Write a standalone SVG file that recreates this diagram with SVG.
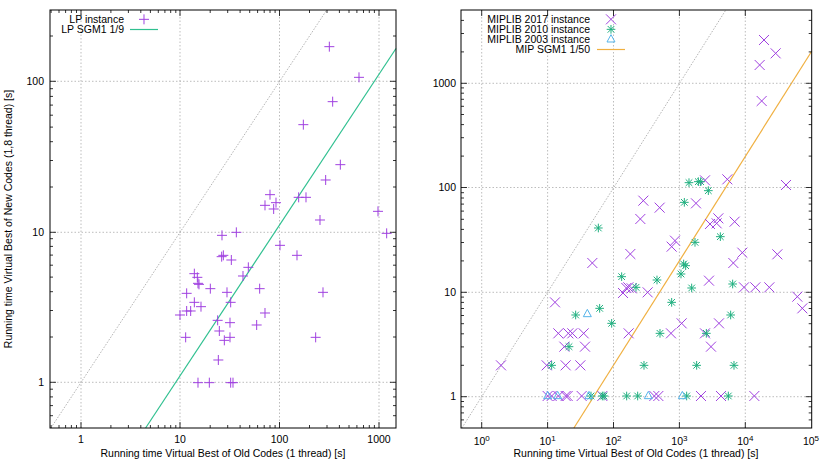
<svg xmlns="http://www.w3.org/2000/svg" xmlns:xlink="http://www.w3.org/1999/xlink" width="830" height="461" viewBox="0 0 830 461">
<style>
text{font-family:"Liberation Sans",Arial,sans-serif;font-size:10.5px;fill:#000}
.grid{stroke:#a0a0a0;stroke-width:0.7;stroke-dasharray:1.5,2;fill:none}
.frame{stroke:#000;stroke-width:1;fill:none}
.tick{stroke:#000;stroke-width:0.8;fill:none}
.diag{stroke:#a0a0a0;stroke-width:0.8;stroke-dasharray:1.5,1.5;fill:none}
.lp{stroke:#30c090;stroke-width:1.2;fill:none}
.mip{stroke:#f0b040;stroke-width:1.2;fill:none}
.p{stroke:#a040e0;stroke-width:3;fill:none}
.g{stroke:#20b080;stroke-width:3;fill:none}
.b{stroke:#56b4e9;stroke-width:3;fill:none}
</style>
<defs>
<path id="plus" d="M-15 0H15M0-15V15"/>
<path id="cross" d="M-15-15L15 15M-15 15L15-15"/>
<path id="star" d="M-13 0H13M0-13V13M-10-10L10 10M-10 10L10-10"/>
<path id="tri" d="M0-14L12 8H-12Z"/>
</defs>
<rect width="830" height="461" fill="#fff"/>

<g id="left-plot">
<path class="grid" d="M81 10V428M180 10V428M279.5 10V428M379 10V428M50 81.3H396M50 232.3H396M50 382.3H396"/>
<g id="connectors">
<path class="diag" d="M50.9 428L326.7 10"/>
<path class="lp" d="M145.6 428L396 48.5"/>
<path class="diag" d="M461.9 428L725.8 10"/>
<path class="mip" d="M573.9 428L811.7 51.2"/>
</g>
<rect class="frame" x="50" y="10" width="346" height="418"/>
<path class="tick" d="M81 428v-6M180 428v-6M279.5 428v-6M379 428v-6M81 10v6M180 10v6M279.5 10v6M379 10v6
M50 81.3h6M50 232.3h6M50 382.3h6M396 81.3h-6M396 232.3h-6M396 382.3h-6"/>
<g id="lminor" class="tick">
<path d="M51.1 428v-3M59 428v-3M65.6 428v-3M71.4 428v-3M76.5 428v-3M110.9 428v-3M128.4 428v-3M140.8 428v-3M150.4 428v-3M158.3 428v-3M164.9 428v-3M170.7 428v-3M175.8 428v-3M210.2 428v-3M227.7 428v-3M240.1 428v-3M249.7 428v-3M257.6 428v-3M264.2 428v-3M270 428v-3M275.1 428v-3M309.5 428v-3M327 428v-3M339.4 428v-3M349 428v-3M356.9 428v-3M363.5 428v-3M369.3 428v-3M374.4 428v-3"/>
<path d="M51.1 10v3M59 10v3M65.6 10v3M71.4 10v3M76.5 10v3M110.9 10v3M128.4 10v3M140.8 10v3M150.4 10v3M158.3 10v3M164.9 10v3M170.7 10v3M175.8 10v3M210.2 10v3M227.7 10v3M240.1 10v3M249.7 10v3M257.6 10v3M264.2 10v3M270 10v3M275.1 10v3M309.5 10v3M327 10v3M339.4 10v3M349 10v3M356.9 10v3M363.5 10v3M369.3 10v3M374.4 10v3"/>
<path d="M50 415.7h3M50 405.6h3M50 396.9h3M50 389.2h3M50 337h3M50 310.5h3M50 291.7h3M50 277.1h3M50 265.2h3M50 255.1h3M50 246.4h3M50 238.7h3M50 187h3M50 160.5h3M50 141.7h3M50 127.1h3M50 115.2h3M50 105.1h3M50 96.4h3M50 88.7h3M50 36h3"/>
<path d="M396 415.7h-3M396 405.6h-3M396 396.9h-3M396 389.2h-3M396 337h-3M396 310.5h-3M396 291.7h-3M396 277.1h-3M396 265.2h-3M396 255.1h-3M396 246.4h-3M396 238.7h-3M396 187h-3M396 160.5h-3M396 141.7h-3M396 127.1h-3M396 115.2h-3M396 105.1h-3M396 96.4h-3M396 88.7h-3M396 36h-3"/>
</g>
<g text-anchor="middle">
<text x="81" y="443">1</text><text x="180" y="443">10</text><text x="279.5" y="443">100</text><text x="379" y="443">1000</text>
<text x="223" y="457">Running time Virtual Best of Old Codes (1 thread) [s]</text>
<text transform="translate(12,219) rotate(-90)">Running time Virtual Best of New Codes (1,8 thread) [s]</text>
</g>
<g text-anchor="end">
<text x="44" y="85">100</text><text x="44" y="236">10</text><text x="44" y="386">1</text>
<text x="124" y="23">LP instance</text><text x="124" y="33">LP SGM1 1/9</text>
</g>
<path class="lp" d="M130 29.5H158"/>
<g transform="scale(0.33333)" class="p">
<use xlink:href="#plus" x="432" y="58"/>
<use xlink:href="#plus" x="988" y="140"/><use xlink:href="#plus" x="1077" y="232"/><use xlink:href="#plus" x="998" y="305"/><use xlink:href="#plus" x="910" y="374"/><use xlink:href="#plus" x="1021" y="494"/><use xlink:href="#plus" x="977" y="540"/><use xlink:href="#plus" x="810" y="584"/><use xlink:href="#plus" x="828" y="608"/><use xlink:href="#plus" x="795" y="616"/><use xlink:href="#plus" x="821" y="627"/><use xlink:href="#plus" x="896" y="592"/><use xlink:href="#plus" x="918" y="592"/><use xlink:href="#plus" x="960" y="660"/><use xlink:href="#plus" x="1134" y="634"/><use xlink:href="#plus" x="1160" y="700"/><use xlink:href="#plus" x="666" y="706"/><use xlink:href="#plus" x="709" y="697"/><use xlink:href="#plus" x="840" y="736"/><use xlink:href="#plus" x="665" y="770"/><use xlink:href="#plus" x="670" y="766"/><use xlink:href="#plus" x="694" y="780"/><use xlink:href="#plus" x="891" y="766"/><use xlink:href="#plus" x="745" y="802"/><use xlink:href="#plus" x="729" y="828"/><use xlink:href="#plus" x="583" y="821"/><use xlink:href="#plus" x="592" y="832"/><use xlink:href="#plus" x="594" y="850"/><use xlink:href="#plus" x="597" y="853"/><use xlink:href="#plus" x="631" y="866"/><use xlink:href="#plus" x="560" y="880"/><use xlink:href="#plus" x="681" y="877"/><use xlink:href="#plus" x="779" y="866"/><use xlink:href="#plus" x="969" y="877"/><use xlink:href="#plus" x="583" y="907"/><use xlink:href="#plus" x="603" y="920"/><use xlink:href="#plus" x="692" y="907"/><use xlink:href="#plus" x="560" y="933"/><use xlink:href="#plus" x="572" y="933"/><use xlink:href="#plus" x="540" y="945"/><use xlink:href="#plus" x="795" y="939"/><use xlink:href="#plus" x="653" y="961"/><use xlink:href="#plus" x="690" y="968"/><use xlink:href="#plus" x="770" y="975"/><use xlink:href="#plus" x="658" y="993"/><use xlink:href="#plus" x="557" y="1012"/><use xlink:href="#plus" x="690" y="1012"/><use xlink:href="#plus" x="673" y="1021"/><use xlink:href="#plus" x="947" y="1012"/><use xlink:href="#plus" x="655" y="1080"/><use xlink:href="#plus" x="594" y="1148"/><use xlink:href="#plus" x="628" y="1148"/><use xlink:href="#plus" x="692" y="1148"/><use xlink:href="#plus" x="699" y="1148"/>
</g>
</g>

<g id="right-plot">
<path class="grid" d="M481.7 10V428M547.6 10V428M613.5 10V428M679.4 10V428M745.3 10V428M461 83.3H811.7M461 187.5H811.7M461 292.3H811.7M461 396.7H811.7"/>
<rect class="frame" x="461" y="10" width="350.7" height="418"/>
<path class="tick" d="M481.7 428v-6M547.6 428v-6M613.5 428v-6M679.4 428v-6M745.3 428v-6M481.7 10v6M547.6 10v6M613.5 10v6M679.4 10v6M745.3 10v6
M461 83.3h6M461 187.5h6M461 292.3h6M461 396.7h6M811.7 83.3h-6M811.7 187.5h-6M811.7 292.3h-6M811.7 396.7h-6"/>
<path class="tick" d="M461 419.9h3M461 412.9h3M461 406.8h3M461 401.5h3M461 365.3h3M461 346.9h3M461 333.8h3M461 323.7h3M461 315.5h3M461 308.5h3M461 302.4h3M461 297.1h3M461 260.9h3M461 242.5h3M461 229.4h3M461 219.3h3M461 211.1h3M461 204.1h3M461 198h3M461 192.7h3M461 156.1h3M461 137.7h3M461 124.6h3M461 114.5h3M461 106.3h3M461 99.3h3M461 93.2h3M461 87.9h3M461 51.9h3M461 33.5h3M461 20.4h3
M811.7 419.9h-3M811.7 412.9h-3M811.7 406.8h-3M811.7 401.5h-3M811.7 365.3h-3M811.7 346.9h-3M811.7 333.8h-3M811.7 323.7h-3M811.7 315.5h-3M811.7 308.5h-3M811.7 302.4h-3M811.7 297.1h-3M811.7 260.9h-3M811.7 242.5h-3M811.7 229.4h-3M811.7 219.3h-3M811.7 211.1h-3M811.7 204.1h-3M811.7 198h-3M811.7 192.7h-3M811.7 156.1h-3M811.7 137.7h-3M811.7 124.6h-3M811.7 114.5h-3M811.7 106.3h-3M811.7 99.3h-3M811.7 93.2h-3M811.7 87.9h-3M811.7 51.9h-3M811.7 33.5h-3M811.7 20.4h-3"/>
<g text-anchor="middle">
<text x="481.7" y="445">10<tspan font-size="8" dy="-4">0</tspan></text>
<text x="547.6" y="445">10<tspan font-size="8" dy="-4">1</tspan></text>
<text x="613.5" y="445">10<tspan font-size="8" dy="-4">2</tspan></text>
<text x="679.4" y="445">10<tspan font-size="8" dy="-4">3</tspan></text>
<text x="745.3" y="445">10<tspan font-size="8" dy="-4">4</tspan></text>
<text x="811" y="445">10<tspan font-size="8" dy="-4">5</tspan></text>
<text x="636" y="457">Running time Virtual Best of Old Codes (1 thread) [s]</text>
</g>
<g text-anchor="end">
<text x="456" y="87">1000</text><text x="456" y="191">100</text><text x="456" y="296">10</text><text x="456" y="400">1</text>
<text x="590" y="23">MIPLIB 2017 instance</text><text x="590" y="33">MIPLIB 2010 instance</text><text x="590" y="43">MIPLIB 2003 instance</text><text x="590" y="53">MIP SGM1 1/50</text>
</g>
<path class="mip" d="M597 49.5H625"/>
<g transform="translate(415,0) scale(0.33333)">
<g class="p">
<use xlink:href="#cross" x="588" y="58"/>
<use xlink:href="#cross" x="1047" y="120"/><use xlink:href="#cross" x="1082" y="160"/><use xlink:href="#cross" x="1034" y="195"/><use xlink:href="#cross" x="1040" y="303"/><use xlink:href="#cross" x="870" y="541"/><use xlink:href="#cross" x="937" y="538"/><use xlink:href="#cross" x="1113" y="555"/><use xlink:href="#cross" x="685" y="602"/><use xlink:href="#cross" x="734" y="623"/><use xlink:href="#cross" x="676" y="657"/><use xlink:href="#cross" x="843" y="610"/><use xlink:href="#cross" x="885" y="672"/><use xlink:href="#cross" x="910" y="655"/><use xlink:href="#cross" x="905" y="670"/><use xlink:href="#cross" x="959" y="665"/><use xlink:href="#cross" x="780" y="722"/><use xlink:href="#cross" x="770" y="740"/><use xlink:href="#cross" x="532" y="789"/><use xlink:href="#cross" x="646" y="762"/><use xlink:href="#cross" x="955" y="789"/><use xlink:href="#cross" x="982" y="758"/><use xlink:href="#cross" x="1087" y="763"/><use xlink:href="#cross" x="882" y="842"/><use xlink:href="#cross" x="634" y="864"/><use xlink:href="#cross" x="624" y="879"/><use xlink:href="#cross" x="640" y="862"/><use xlink:href="#cross" x="650" y="865"/><use xlink:href="#cross" x="698" y="877"/><use xlink:href="#cross" x="987" y="862"/><use xlink:href="#cross" x="1021" y="862"/><use xlink:href="#cross" x="1063" y="862"/><use xlink:href="#cross" x="1147" y="890"/><use xlink:href="#cross" x="1162" y="925"/><use xlink:href="#cross" x="420" y="907"/><use xlink:href="#cross" x="800" y="970"/><use xlink:href="#cross" x="912" y="970"/><use xlink:href="#cross" x="430" y="1000"/><use xlink:href="#cross" x="460" y="1000"/><use xlink:href="#cross" x="472" y="1000"/><use xlink:href="#cross" x="506" y="1000"/><use xlink:href="#cross" x="641" y="1000"/><use xlink:href="#cross" x="768" y="1000"/><use xlink:href="#cross" x="870" y="1000"/><use xlink:href="#cross" x="448" y="1040"/><use xlink:href="#cross" x="510" y="1040"/><use xlink:href="#cross" x="888" y="1040"/><use xlink:href="#cross" x="258" y="1096"/><use xlink:href="#cross" x="395" y="1096"/><use xlink:href="#cross" x="452" y="1096"/><use xlink:href="#cross" x="496" y="1096"/><use xlink:href="#cross" x="398" y="1188"/><use xlink:href="#cross" x="410" y="1188"/><use xlink:href="#cross" x="430" y="1188"/><use xlink:href="#cross" x="452" y="1188"/><use xlink:href="#cross" x="458" y="1188"/><use xlink:href="#cross" x="500" y="1188"/><use xlink:href="#cross" x="562" y="1188"/><use xlink:href="#cross" x="718" y="1188"/><use xlink:href="#cross" x="730" y="1188"/><use xlink:href="#cross" x="858" y="1188"/><use xlink:href="#cross" x="918" y="1188"/><use xlink:href="#cross" x="1018" y="1188"/>
</g>
<g class="g">
<use xlink:href="#star" x="588" y="88"/>
<use xlink:href="#star" x="850" y="545"/><use xlink:href="#star" x="822" y="548"/><use xlink:href="#star" x="857" y="545"/><use xlink:href="#star" x="880" y="572"/><use xlink:href="#star" x="808" y="607"/><use xlink:href="#star" x="550" y="684"/><use xlink:href="#star" x="916" y="710"/><use xlink:href="#star" x="840" y="727"/><use xlink:href="#star" x="806" y="792"/><use xlink:href="#star" x="812" y="797"/><use xlink:href="#star" x="798" y="822"/><use xlink:href="#star" x="620" y="830"/><use xlink:href="#star" x="726" y="840"/><use xlink:href="#star" x="830" y="864"/><use xlink:href="#star" x="663" y="862"/><use xlink:href="#star" x="953" y="852"/><use xlink:href="#star" x="770" y="907"/><use xlink:href="#star" x="554" y="925"/><use xlink:href="#star" x="482" y="945"/><use xlink:href="#star" x="590" y="970"/><use xlink:href="#star" x="947" y="945"/><use xlink:href="#star" x="735" y="1000"/><use xlink:href="#star" x="874" y="1000"/><use xlink:href="#star" x="462" y="1040"/><use xlink:href="#star" x="410" y="1096"/><use xlink:href="#star" x="687" y="1096"/><use xlink:href="#star" x="845" y="1096"/><use xlink:href="#star" x="957" y="1096"/><use xlink:href="#star" x="528" y="1188"/><use xlink:href="#star" x="562" y="1188"/><use xlink:href="#star" x="567" y="1188"/><use xlink:href="#star" x="635" y="1188"/><use xlink:href="#star" x="668" y="1188"/><use xlink:href="#star" x="815" y="1188"/><use xlink:href="#star" x="940" y="1188"/>
</g>
<g class="b">
<use xlink:href="#tri" x="588" y="118"/>
<use xlink:href="#tri" x="398" y="1188"/><use xlink:href="#tri" x="428" y="1188"/><use xlink:href="#tri" x="517" y="942"/><use xlink:href="#tri" x="522" y="1188"/><use xlink:href="#tri" x="700" y="1188"/><use xlink:href="#tri" x="802" y="1188"/>
</g>
</g>
</g>
</svg>
